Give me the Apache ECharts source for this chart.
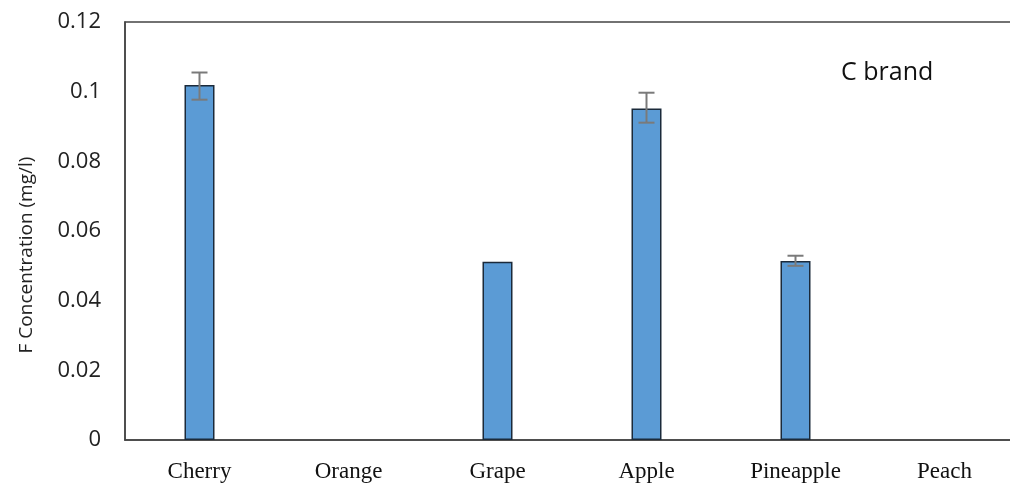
<!DOCTYPE html>
<html>
<head>
<meta charset="utf-8">
<script src="https://cdn.jsdelivr.net/npm/echarts@6/dist/echarts.min.js"></script>
<style>
  html, body { margin: 0; padding: 0; background: #fff; overflow: hidden; }
  #chart { width: 1020px; height: 488px; }
</style>
</head>
<body>
<div id="chart"></div>
<script>
// fruits (C brand)
const categories = ['Cherry', 'Orange', 'Grape', 'Apple', 'Pineapple', 'Peach']
const values = [0.1019, null, 0.0512, 0.0952, 0.0514, null]
// error bar ends
const errLow = [0.0977, null, null, 0.0911, 0.0500, null]
const errHigh = [0.1055, null, null, 0.0997, 0.0529, null]
const yTicks = [0, 0.02, 0.04, 0.06, 0.08, 0.1, 0.12]

const errData = []
categories.forEach((c, i) => {
  if (errLow[i] !== null) errData.push([i, errLow[i], errHigh[i]])
})

const chart = echarts.init(document.getElementById('chart'))
const option = {
  animation: false,
  title: {
    text: 'C brand',
    left: 836,
    top: 55,
    textStyle: { fontFamily: 'Open Sans', fontWeight: 'normal', fontSize: 25, color: '#111' }
  },
  // axis title placed a bit lower than grid middle, like the original
  graphic: [
    {
      type: 'text',
      x: 27,
      y: 255,
      rotation: Math.PI / 2,
      style: {
        text: 'F Concentration (mg/l)',
        fontFamily: 'Open Sans',
        fontSize: 19,
        fill: '#222',
        align: 'center',
        verticalAlign: 'middle'
      }
    }
  ],
  grid: {
    left: 125,
    right: 1,
    top: 22,
    bottom: 48,
    show: true,
    borderColor: '#444',
    borderWidth: 1.5
  },
  xAxis: {
    type: 'category',
    data: categories,
    axisTick: { show: false },
    axisLine: { lineStyle: { color: '#444', width: 1.5 } },
    axisLabel: {
      margin: 20,
      fontFamily: 'Liberation Serif',
      fontSize: 23,
      color: '#111'
    }
  },
  yAxis: {
    type: 'value',
    min: 0,
    max: 0.12,
    interval: 0.02,
    splitLine: { show: false },
    axisTick: { show: false },
    axisLine: { show: true, lineStyle: { color: '#444', width: 1.5 } },
    axisLabel: {
      margin: 24,
      fontFamily: 'Open Sans',
      fontSize: 22,
      color: '#222',
      formatter: v => {
        const t = yTicks.find(k => Math.abs(k - v) < 1e-9)
        return t === undefined ? '' : String(t)
      }
    }
  },
  series: [
    {
      type: 'bar',
      data: values,
      barWidth: 30,
      itemStyle: { color: '#5B9BD5', borderColor: '#1b2a3a', borderWidth: 1.5 }
    },
    {
      type: 'custom',
      data: errData,
      z: 10,
      renderItem: (params, api) => {
        const x = api.value(0)
        const lo = api.coord([x, api.value(1)])
        const hi = api.coord([x, api.value(2)])
        const half = 8
        const style = { stroke: '#7a7a7a', lineWidth: 2 }
        return {
          type: 'group',
          children: [
            { type: 'line', shape: { x1: hi[0], y1: hi[1], x2: lo[0], y2: lo[1] }, style },
            { type: 'line', shape: { x1: hi[0] - half, y1: hi[1], x2: hi[0] + half, y2: hi[1] }, style },
            { type: 'line', shape: { x1: lo[0] - half, y1: lo[1], x2: lo[0] + half, y2: lo[1] }, style }
          ]
        }
      }
    }
  ]
}
chart.setOption(option)
</script>
</body>
</html>
